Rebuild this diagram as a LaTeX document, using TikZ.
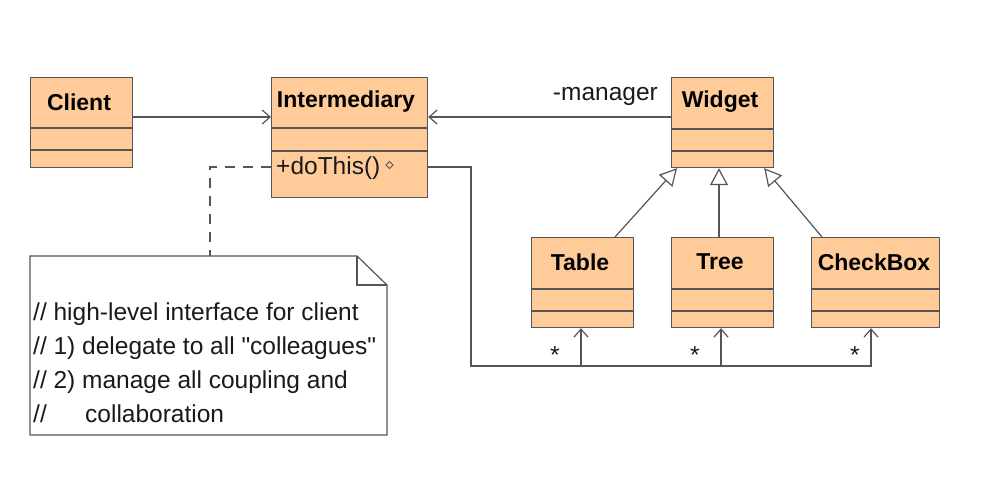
\documentclass[tikz,border=0pt]{standalone}
\usepackage{fontspec}
\setmainfont{Liberation Sans}[Ligatures=TeXOff]
\usetikzlibrary{arrows.meta}
\definecolor{classfill}{HTML}{FFCC99}
\definecolor{linegray}{HTML}{555555}
\definecolor{textdark}{HTML}{1A1A1A}
\begin{document}
\begin{tikzpicture}[x=1pt,y=-1pt,
  classbox/.style={draw=linegray, fill=classfill, line width=1.2pt, inner sep=0pt, anchor=north west},
  divider/.style={draw=linegray, line width=1.2pt},
  classtitle/.style={font=\fontsize{23}{27}\selectfont\bfseries, text=black, inner sep=0pt},
  plaintext/.style={font=\fontsize{24.5}{28}\selectfont, text=textdark, inner sep=0pt},
  notetext/.style={font=\fontsize{24.5}{28}\selectfont, text=textdark, inner sep=0pt, anchor=base west},
  nav/.style={draw=linegray, line width=1.2pt, -{Straight Barb[length=8pt,width=14pt,line width=1.2pt]}},
  gen/.style={draw=linegray, line width=1.2pt, -{Triangle[open,length=17pt,width=18pt,fill=white,line width=1.2pt]}},
  dashline/.style={draw=linegray, line width=1.2pt, dash pattern=on 10pt off 8pt},
  notebox/.style={draw=linegray, fill=white, line width=1.2pt}
]
\useasboundingbox (0,0) rectangle (992,478);
\fill[white] (0,0) rectangle (992,478);

% class boxes
\node[classbox, minimum width=102pt, minimum height=90pt] (client) at (30,77) {};
\node[classbox, minimum width=156pt, minimum height=120pt] (inter) at (271,77) {};
\node[classbox, minimum width=102pt, minimum height=90pt] (widget) at (671,77) {};
\node[classbox, minimum width=102pt, minimum height=90pt] (table) at (531,237) {};
\node[classbox, minimum width=102pt, minimum height=90pt] (tree) at (671,237) {};
\node[classbox, minimum width=128pt, minimum height=90pt] (checkbox) at (811,237) {};

% dividers
\foreach \b/\a/\c in {client/51/73, inter/51/74, widget/52/74, table/52/74, tree/52/74, checkbox/52/74}{
  \draw[divider] ([yshift=-\a pt]\b.north west) -- ([yshift=-\a pt]\b.north east);
  \draw[divider] ([yshift=-\c pt]\b.north west) -- ([yshift=-\c pt]\b.north east);
}

% titles
\node[classtitle] (clientT) at (79,102) {Client};
\node[classtitle] (interT) at (346,102) {Intermediary};
\node[classtitle] (widgetT) at (720,102) {Widget};
\node[classtitle] (tableT) at (580,262) {Table};
\node[classtitle] (treeT) at (720,262) {Tree};
\node[classtitle] (checkT) at (874,262) {CheckBox};

% operation
\node[plaintext, anchor=west] (op) at (276,168) {+doThis()};
\draw[linegray, line width=0.8pt] (386,165) -- (389.5,161.5) -- (393,165) -- (389.5,168.5) -- cycle;

% associations
\draw[nav] ([yshift=-40pt]client.north east) -- ([yshift=-40pt]inter.north west);
\draw[nav] ([yshift=-40pt]widget.north west) -- ([yshift=-40pt]inter.north east);
\node[plaintext, anchor=east] (mgr) at (658,96) {-manager};

% generalizations
\draw[gen] ([xshift=84pt]table.north west) -- ([xshift=6pt]widget.south west);
\draw[gen] ([xshift=48pt]tree.north west) -- ([xshift=48pt]widget.south west);
\draw[gen] ([xshift=11pt]checkbox.north west) -- ([xshift=-10pt]widget.south east);

% bus to children
\coordinate (bendA) at (471,167);
\coordinate (bendB) at (471,366);
\coordinate (jTable) at (581,366);
\coordinate (jTree) at (721,366);
\draw[nav] ([yshift=-90pt]inter.north east) -- (bendA) -- (bendB) -| ([xshift=60pt]checkbox.south west);
\draw[nav] (jTable) -- ([xshift=50pt]table.south west);
\draw[nav] (jTree) -- ([xshift=50pt]tree.south west);
\node[plaintext] (s1) at (555,355) {*};
\node[plaintext] (s2) at (695,355) {*};
\node[plaintext] (s3) at (855,355) {*};

% note
\coordinate (noteTop) at (210,256);
\draw[notebox] (30,256) -- (357,256) -- (387,285) -- (387,435) -- (30,435) -- cycle;
\draw[divider] (357,256) -- (357,285) -- (387,285);
\draw[dashline] ([yshift=-90pt]inter.north west) -- (210,167) -- (noteTop);
\node[notetext] (n1) at (33,320) {// high-level interface for client};
\node[notetext] (n2) at (33,354) {// 1) delegate to all "colleagues"};
\node[notetext] (n3) at (33,388) {// 2) manage all coupling and};
\node[notetext] (n4) at (33,422) {\makebox[52pt][l]{//}collaboration};
\end{tikzpicture}
\end{document}
